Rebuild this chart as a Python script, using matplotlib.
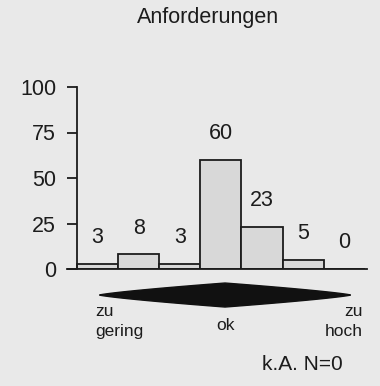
import numpy as np
import matplotlib
matplotlib.use("Agg")
import matplotlib.pyplot as plt

# Response counts per rating step, from "zu gering" to "zu hoch"
values = [3, 8, 3, 60, 23, 5, 0]
positions = list(range(len(values)))
y_ticks = [0, 25, 50, 75, 100]
title = "Anforderungen"
scale_labels = {"low": "zu\ngering", "mid": "ok", "high": "zu\nhoch"}
missing_note = "k.A. N=0"

bg = "#e9e9e9"
bar_fill = "#d8d8d8"
ink = "#1c1c1c"

plt.rcParams["font.family"] = ["Liberation Sans", "DejaVu Sans"]

fig = plt.figure(figsize=(3.80, 3.86), dpi=100, facecolor=bg)
W, H = 380, 386
left_px, right_px, bottom_px, top_px = 67, 367, 269, 87
ax = fig.add_axes([left_px / W, 1 - bottom_px / H,
                   (right_px - left_px) / W, (bottom_px - top_px) / H])
ax.set_facecolor("none")

ax.bar(positions, values, width=1.0, color=bar_fill, edgecolor=ink,
       linewidth=1.3, zorder=2)

for x, v in zip(positions, values):
    ax.annotate(str(v), (x, v), xytext=(0, 19), textcoords="offset points",
                ha="center", va="center", fontsize=15.5, color=ink)

ax.set_xlim(-0.74, 6.55)
ax.set_ylim(0, 100)

for side in ("top", "right"):
    ax.spines[side].set_visible(False)
ax.spines["left"].set_position(("data", -0.5))
ax.spines["left"].set_bounds(0, 100)
for side in ("left", "bottom"):
    ax.spines[side].set_color(ink)
    ax.spines[side].set_linewidth(1.3)
    ax.spines[side].set_zorder(3)

ax.set_yticks(y_ticks)
ax.set_xticks([])
ax.tick_params(axis="y", length=7, width=1.3, color=ink, labelsize=15.5,
               labelcolor=ink, pad=8)

# Spindle-shaped scale marker beneath the axis
t = np.linspace(-1, 1, 401)
cx, half_span, cy, half_h = 3.1, 3.05, -14.3, 6.6
half = half_h * (1 - np.abs(t)) ** 0.8
xs = np.concatenate([cx + half_span * t, (cx + half_span * t)[::-1]])
ys = np.concatenate([cy + half, (cy - half)[::-1]])
ax.fill(xs, ys, color="#111111", clip_on=False, zorder=2)

ax.text(-0.06, -19.5, scale_labels["low"], ha="left", va="top",
        fontsize=12.5, color=ink, linespacing=1.4, clip_on=False)
ax.text(3.1, -30.8, scale_labels["mid"], ha="center", va="center",
        fontsize=12.5, color=ink, clip_on=False)
ax.text(6.44, -19.5, scale_labels["high"], ha="right", va="top",
        fontsize=12.5, color=ink, linespacing=1.4, multialignment="right",
        clip_on=False)
ax.text(4.0, -52.7, missing_note, ha="left", va="center",
        fontsize=15, color=ink, clip_on=False)

fig.text(208 / W, 1 - 18 / H, title, ha="center", va="center",
         fontsize=15.5, color=ink)

fig.savefig("out.png", dpi=100, facecolor=bg)
